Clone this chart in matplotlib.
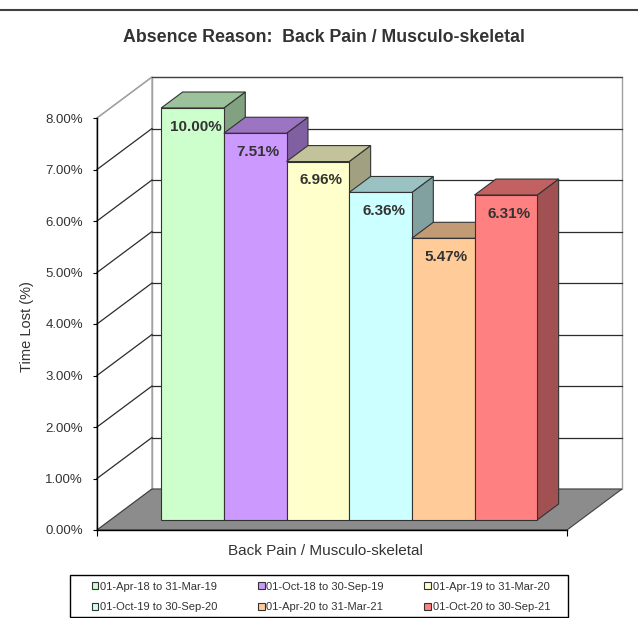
import matplotlib
matplotlib.use("Agg")
import matplotlib.pyplot as plt
from matplotlib.patches import Polygon, Patch, Rectangle
from matplotlib.lines import Line2D
from matplotlib.colors import to_rgb
from matplotlib.ticker import FuncFormatter

plt.rcParams['font.family'] = ['Liberation Sans', 'DejaVu Sans']

# data
periods = ['01-Apr-18 to 31-Mar-19', '01-Oct-18 to 30-Sep-19', '01-Apr-19 to 31-Mar-20',
           '01-Oct-19 to 30-Sep-20', '01-Apr-20 to 31-Mar-21', '01-Oct-20 to 30-Sep-21']
values = [10.00, 7.51, 6.96, 6.36, 5.47, 6.31]
bar_colors = ['#CCFFCC', '#CC99FF', '#FFFFCC', '#CCFFFF', '#FFCC99', '#FF8080']
category = 'Back Pain / Musculo-skeletal'
title = 'Absence Reason:  Back Pain / Musculo-skeletal'
y_max = 8
y_ticks = [0, 1, 2, 3, 4, 5, 6, 7, 8]

def shade(c, f):
    r, g, b = to_rgb(c)
    return (r * f, g * f, b * f)

fig = plt.figure(figsize=(6.38, 6.18), dpi=100)
ax = fig.add_axes([97 / 638, 88 / 618, 470 / 638, 412 / 618])
ax.patch.set_visible(False)

n = len(values)
W = 7.5                      # width of the floor in bar units
gap = 0.81
ax.set_xlim(0, W)
ax.set_ylim(0, y_max)

# 3d depth of the box, in data units
Dx, Dy = 55 / (470 / W), 41 / 51.5
f0, fb = 0.244, 0.39         # bar front depth and bar thickness as fraction of box depth
ox, oy = f0 * Dx, f0 * Dy
bx, by = fb * Dx, fb * Dy

kw = dict(clip_on=False)
# walls and floor
ax.add_patch(Polygon([(Dx, Dy), (W + Dx, Dy), (W + Dx, y_max + Dy), (Dx, y_max + Dy)],
                     closed=True, fc='white', ec='#a0a0a0', lw=1, zorder=0.5, **kw))
ax.add_patch(Polygon([(0, 0), (0, y_max), (Dx, y_max + Dy), (Dx, Dy)],
                     closed=True, fc='white', ec='#a0a0a0', lw=1, zorder=0.5, **kw))
for v in y_ticks[1:]:
    col = '#2b2b2b' if v < y_max else '#a0a0a0'
    ax.add_line(Line2D([0, Dx], [v, v + Dy], color=col, lw=0.9, zorder=0.6, **kw))
    ax.add_line(Line2D([Dx, W + Dx], [v + Dy, v + Dy],
                       color='#2b2b2b' if v < y_max else '#404040', lw=0.9, zorder=0.6, **kw))
ax.add_patch(Polygon([(0, 0), (W, 0), (W + Dx, Dy), (Dx, Dy)],
                     closed=True, fc='#8c8c8c', ec='#404040', lw=0.8, zorder=0.8, **kw))

# bars
for i, (v, c) in enumerate(zip(values, bar_colors)):
    h = min(v, y_max)
    x0 = gap + i + ox
    x1 = x0 + 1
    z = 3 + i
    ax.add_patch(Polygon([(x1, oy), (x1, h + oy), (x1 + bx, h + oy + by), (x1 + bx, oy + by)],
                         closed=True, fc=shade(c, 0.63), ec='#333333', lw=0.8, zorder=z, **kw))
    ax.add_patch(Polygon([(x0, h + oy), (x1, h + oy), (x1 + bx, h + oy + by), (x0 + bx, h + oy + by)],
                         closed=True, fc=shade(c, 0.76), ec='#333333', lw=0.8, zorder=z, **kw))
    ax.add_patch(Polygon([(x0, oy), (x1, oy), (x1, h + oy), (x0, h + oy)],
                         closed=True, fc=c, ec='#333333', lw=0.8, zorder=z, **kw))
    ax.text(x0 + 0.55, h + oy - 0.36, f'{v:.2f}%', ha='center', va='center',
            fontsize=11, fontweight='bold', color='#333333', zorder=20)

# axes
for s in ['top', 'right']:
    ax.spines[s].set_visible(False)
ax.spines['left'].set_linewidth(1)
ax.spines['bottom'].set_linewidth(1)
ax.set_yticks(y_ticks)
ax.yaxis.set_major_formatter(FuncFormatter(lambda v, p: f'{v:.2f}%'))
ax.set_xticks([0, W])
ax.set_xticklabels([])
ax.tick_params(axis='y', direction='out', length=3, pad=7, labelsize=9.5, labelcolor='#333333')
ax.tick_params(axis='x', direction='out', length=4)
ax.set_ylabel('Time Lost (%)', fontsize=10.5, color='#333333')
ax.yaxis.set_label_coords(-0.134, 0.493)
ax.set_xlabel(category, fontsize=11, color='#333333')
ax.xaxis.set_label_coords(0.485, -0.034)

fig.text(324 / 638, 1 - 38 / 618, title, ha='center', va='center',
         fontsize=12.8, fontweight='bold', color='#333333')
fig.add_artist(Line2D([0, 1], [1 - 10 / 618, 1 - 10 / 618], color='#404040', lw=1.5))

# legend, filled row by row like the original
fig.add_artist(Rectangle((70 / 638, 1 - 617 / 618), 498 / 638, 42 / 618, transform=fig.transFigure,
                         fc='white', ec='black', lw=1))
handles = [Patch(fc=c, ec='#333333', lw=0.8) for c in bar_colors]
order = [0, 3, 1, 4, 2, 5]
leg = fig.legend([handles[k] for k in order], [periods[k] for k in order],
                 ncol=3, loc='center', mode='expand',
                 bbox_to_anchor=(84 / 638, 1 - 616 / 618, 474 / 638, 38 / 618),
                 fontsize=8, handlelength=0.6, handleheight=0.6, handletextpad=0.15,
                 borderpad=0.2, labelspacing=0.95, frameon=False)
for t in leg.get_texts():
    t.set_color('#333333')

fig.savefig('out.png', dpi=100)
